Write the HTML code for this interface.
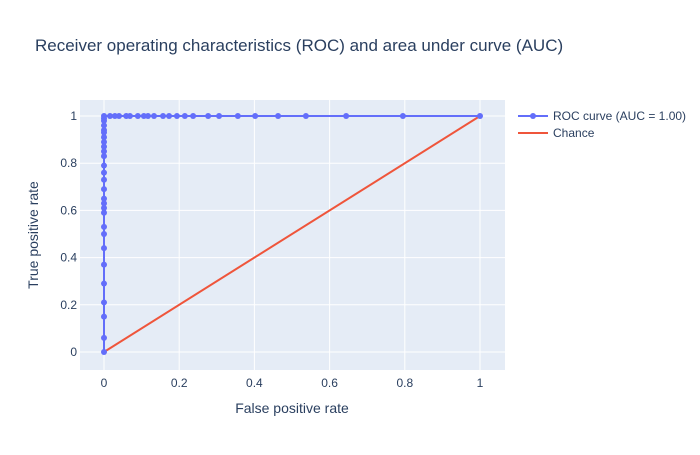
<!DOCTYPE html>
<html><head><meta charset="utf-8"><style>
body{margin:0;background:#fff;font-family:"Liberation Sans",sans-serif}
text{font-family:"Liberation Sans",sans-serif;fill:#2a3f5f}
</style></head><body>
<svg id="chart" width="700" height="450">
<rect width="700" height="450" fill="#fff"/>
<text x="35" y="51" font-size="17">Receiver operating characteristics (ROC) and area under curve (AUC)</text>
<rect x="80" y="100" width="425" height="270" fill="#e5ecf6"/>
<g id="grid"></g>
<g id="series"></g>
<text x="292" y="413" font-size="14" text-anchor="middle">False positive rate</text>
<text transform="translate(38,235) rotate(-90)" font-size="14" text-anchor="middle">True positive rate</text>
<g>
<line x1="518" y1="116" x2="548" y2="116" stroke="#636efa" stroke-width="2"/>
<circle cx="533" cy="116" r="3" fill="#636efa"/>
<text x="553" y="120" font-size="12">ROC curve (AUC = 1.00)</text>
<line x1="518" y1="133" x2="548" y2="133" stroke="#ef553b" stroke-width="2"/>
<text x="553" y="137" font-size="12">Chance</text>
</g>
</svg>
<script>
const fprTop=[0,0.016,0.029,0.04,0.059,0.069,0.09,0.106,0.117,0.133,0.157,0.173,0.194,0.215,0.237,0.277,0.306,0.356,0.402,0.463,0.537,0.644,0.795,1.0];
const tprLeft=[0,0.06,0.15,0.21,0.29,0.37,0.44,0.5,0.53,0.59,0.61,0.63,0.65,0.69,0.73,0.76,0.79,0.83,0.85,0.87,0.89,0.91,0.93,0.94,0.96,0.98,0.99,1];
const chanceX=[0,1];
const chanceY=[0,1];
const xTicks=[0,0.2,0.4,0.6,0.8,1];
const yTicks=[0,0.2,0.4,0.6,0.8,1];
const xTickLabels=["0","0.2","0.4","0.6","0.8","1"];
const yTickLabels=["0","0.2","0.4","0.6","0.8","1"];
const sx=v=>104+v*376, sy=v=>352-v*236;
const NS="http://www.w3.org/2000/svg";
const grid=document.getElementById('grid'), ser=document.getElementById('series');
function mk(tag,attrs,parent){const e=document.createElementNS(NS,tag);for(const k in attrs)e.setAttribute(k,attrs[k]);parent.appendChild(e);return e;}
xTicks.forEach((t,i)=>{
 const l=mk('line',{x1:sx(t),x2:sx(t),y1:100,y2:370,stroke:'#fff','stroke-width':1},grid);
 
 
 const tx=mk('text',{x:sx(t),y:387,'font-size':12,'text-anchor':'middle'},grid);
 tx.textContent=xTickLabels[i];
 
 
});
yTicks.forEach((t,i)=>{
 const l=mk('line',{x1:80,x2:505,y1:sy(t),y2:sy(t),stroke:'#fff','stroke-width':1},grid);
 
 
 const tx=mk('text',{x:77,y:sy(t)+4,'font-size':12,'text-anchor':'end'},grid);
 tx.textContent=yTickLabels[i];
 
 
});
// ROC points: up the left edge then across the top
const pts=tprLeft.map(y=>[0,y]).concat(fprTop.slice(1).map(x=>[x,1]));
const cl=mk('polyline',{points:chanceX.map((x,i)=>sx(x)+','+sy(chanceY[i])).join(' '),fill:'none',stroke:'#ef553b','stroke-width':2},ser);


const rl=mk('polyline',{points:pts.map(p=>sx(p[0])+','+sy(p[1])).join(' '),fill:'none',stroke:'#636efa','stroke-width':2},ser);


pts.forEach(p=>{
 const c=mk('circle',{cx:sx(p[0]),cy:sy(p[1]),r:3,fill:'#636efa'},ser);
 
 
});
</script>
</body></html>
